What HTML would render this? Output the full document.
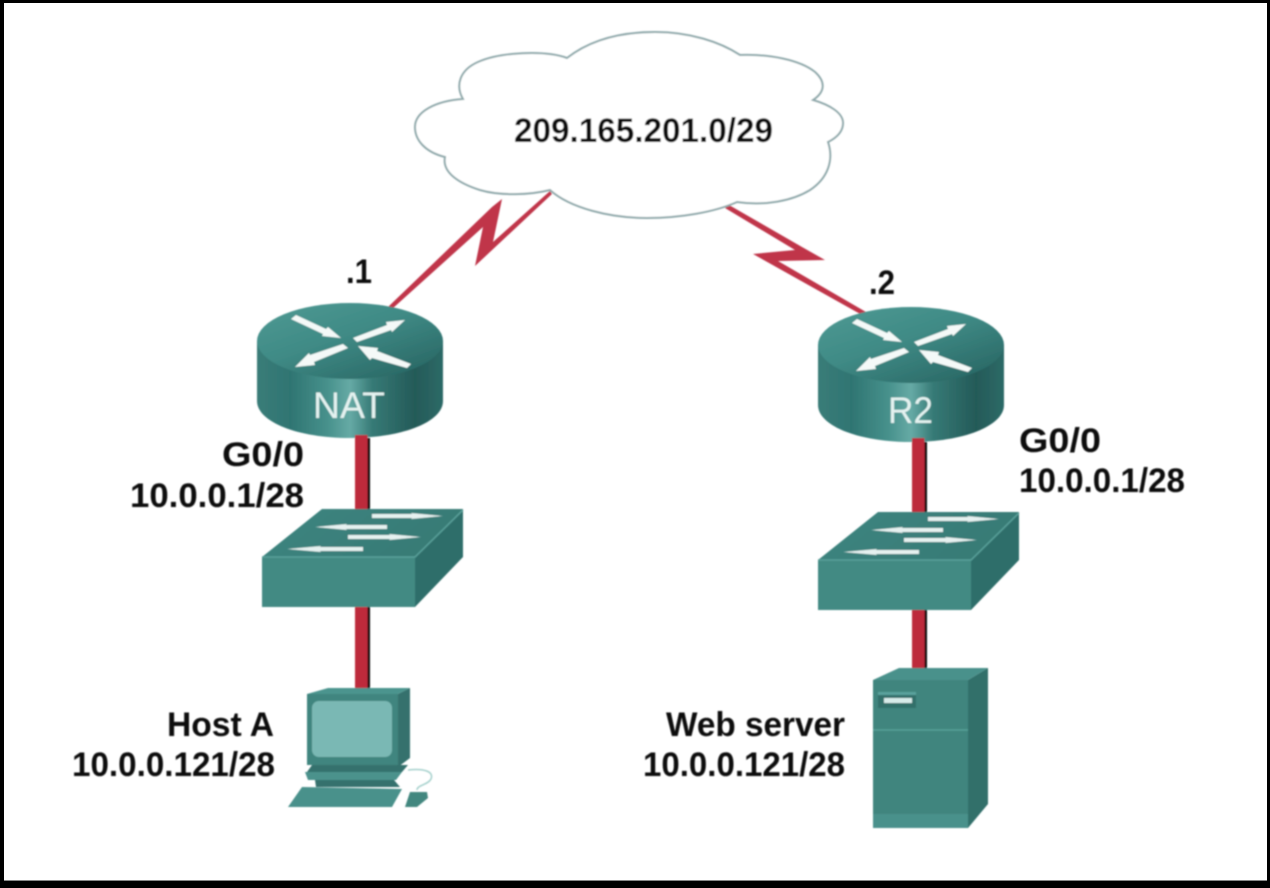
<!DOCTYPE html>
<html><head><meta charset="utf-8"><style>
html,body{margin:0;padding:0;background:#fff}
svg{display:block}
text{font-family:"Liberation Sans",sans-serif;fill:#111;font-weight:bold;font-size:34px}
</style></head><body>
<svg width="1270" height="888" viewBox="0 0 1270 888" xmlns="http://www.w3.org/2000/svg">
<defs>
<filter id="b" x="-5%" y="-5%" width="110%" height="110%"><feGaussianBlur stdDeviation="0.9"/></filter>
<linearGradient id="side" x1="0" x2="1" y1="0" y2="0">
<stop offset="0" stop-color="#3a7c78"/><stop offset=".18" stop-color="#2f7572"/><stop offset=".38" stop-color="#47918c"/><stop offset=".5" stop-color="#66aaa5"/><stop offset=".62" stop-color="#367a76"/><stop offset=".85" stop-color="#245a58"/><stop offset="1" stop-color="#2d6a67"/>
</linearGradient>
<linearGradient id="top" x1="0" x2="0.7" y1="0.2" y2="1">
<stop offset="0" stop-color="#4a9690"/><stop offset=".45" stop-color="#3f8a85"/><stop offset="1" stop-color="#2b6b68"/>
</linearGradient>
<linearGradient id="swtop" x1="0" x2="1" y1="0" y2="0.3">
<stop offset="0" stop-color="#3d8580"/><stop offset="1" stop-color="#377a75"/>
</linearGradient>
<g id="router">
<path d="M257 341V401C257 422 298 438 350 438S443 422 443 401V341Z" fill="url(#side)"/>
<ellipse cx="350" cy="341" rx="93" ry="38" fill="url(#top)"/>
<g fill="#f4f9f8">
<path d="M291 319L296 315L326 329L328 327L341 338L322 336L323 334Z"/>
<path d="M405 320L386 322L387 325L353 338L357 342L391 330L392 332Z"/>
<path d="M295 367L315 365L314 362L348 348L343 344L310 355L309 353Z"/>
<path d="M358 346L378 348L377 351L411 364L407 368L372 358L370 360Z"/>
</g>
</g>
<g id="switch">
<polygon points="322,509 463,509 415,557 262,557" fill="url(#swtop)"/>
<polygon points="262,557 415,557 415,607 262,607" fill="#428a83"/>
<polygon points="415,557 463,509 463,557 415,607" fill="#2f6e6a"/>
<path d="M262 557H415L463 510" stroke="#58a09a" stroke-width="1.5" fill="none"/>
<g fill="#e6f1f0">
<path d="M372 514H412L411 513L443 516L411 519L412 518H372Z"/>
<path d="M387 525H346L347 524L315 527L347 530L346 529H387Z"/>
<path d="M348 535H390L389 534L421 537L389 540L390 539H348Z"/>
<path d="M363 547H320L321 546L287 549L321 552L320 551H363Z"/>
</g>
</g>
</defs>
<rect width="1270" height="888" fill="#fff"/>
<g filter="url(#b)">
<!-- links -->
<polygon points="388,307 492,207 502,199 493,242 550,191 552,194 475,266 483,227 392,309" fill="#c0344a"/>
<polygon points="725,208 795,250 753,254 862,315 866,312 778,261 825,260 802,247 729,205" fill="#c0344a"/>
<!-- cloud -->
<path d="M567 58C590 40 620 32 655 32C690 32 720 42 740 55C770 54 800 60 815 72C826 82 825 92 813 100C830 105 843 113 843 123C843 132 836 138 828 142C834 160 828 178 810 190C792 201 765 206 737 202C715 212 680 218 647 218C610 218 570 208 550 190C530 195 500 196 480 190C458 183 442 172 445 157C425 152 415 140 415 127C415 112 435 101 463 99C455 85 460 70 478 62C500 52 545 50 567 58Z" fill="#fff" stroke="#8fa9ab" stroke-width="2"/>
<use href="#router"/>
<use href="#router" x="561" y="4"/>
<rect x="355" y="435" width="12.5" height="76" fill="#bd2a3a"/><rect x="367.5" y="438" width="2.5" height="73" fill="#111"/>
<rect x="355" y="605" width="12.5" height="87" fill="#bd2a3a"/><rect x="367.5" y="605" width="2.5" height="87" fill="#111"/>
<rect x="912" y="438" width="12.5" height="77" fill="#bd2a3a"/><rect x="924.5" y="442" width="2.5" height="73" fill="#111"/>
<rect x="912" y="607" width="12.5" height="63" fill="#bd2a3a"/><rect x="924.5" y="607" width="2.5" height="63" fill="#111"/>
<use href="#switch"/>
<use href="#switch" x="556" y="3"/>
<!-- PC -->
<polygon points="307,694 328,688 410,688 398,694" fill="#4b948e"/>
<polygon points="307,694 398,694 398,765 307,765" fill="#40857f"/>
<polygon points="398,694 410,688 410,758 398,767" fill="#34716d"/>
<rect x="312" y="701" width="80" height="56" rx="7" fill="#7ab8b4"/>
<polygon points="312,765 408,765 402,772 307,772" fill="#34716d"/>
<polygon points="305,772 402,772 396,780 308,780" fill="#4b928c"/>
<polygon points="315,780 394,780 400,787 316,787" fill="#34716d"/>
<polygon points="302,787 402,789 392,807 288,807" fill="#4a918b"/>
<polygon points="410,792 427,792 428,798 417,807 405,807" fill="#42877f"/>
<path d="M408 770C425 768 434 772 431 779C428 785 417 785 417 790" fill="none" stroke="#a5d0cc" stroke-width="1.5"/>
<!-- server -->
<polygon points="873,680 899,668 988,668 968,680" fill="#4a918b"/>
<polygon points="873,680 968,680 968,828 873,828" fill="#3f857e"/>
<polygon points="968,680 988,668 988,804 968,828" fill="#30706b"/>
<path d="M873 730H968" stroke="#57a098" stroke-width="1.5"/>
<rect x="873" y="814" width="95" height="14" fill="#4a918b"/>
<rect x="878" y="692" width="38" height="16" fill="#32706b"/>
<rect x="878" y="692" width="38" height="3" fill="#5aa29c"/>
<rect x="884" y="698" width="28" height="5" fill="#d8ebe9"/>
<!-- labels -->
<text x="313" y="418" style="fill:#e4f2f0;font-weight:normal;font-size:37px" textLength="72" lengthAdjust="spacingAndGlyphs">NAT</text>
<text x="888" y="423" style="fill:#e4f2f0;font-weight:normal;font-size:37px" textLength="45" lengthAdjust="spacingAndGlyphs">R2</text>
<text x="514" y="142" textLength="259" lengthAdjust="spacingAndGlyphs">209.165.201.0/29</text>
<text x="346" y="283" textLength="26" lengthAdjust="spacingAndGlyphs">.1</text>
<text x="869" y="294" textLength="26" lengthAdjust="spacingAndGlyphs">.2</text>
<text x="222" y="466" textLength="82" lengthAdjust="spacingAndGlyphs">G0/0</text>
<text x="130" y="507" textLength="174" lengthAdjust="spacingAndGlyphs">10.0.0.1/28</text>
<text x="1019" y="452" textLength="82" lengthAdjust="spacingAndGlyphs">G0/0</text>
<text x="1019" y="492" textLength="166" lengthAdjust="spacingAndGlyphs">10.0.0.1/28</text>
<text x="167" y="736" textLength="107" lengthAdjust="spacingAndGlyphs">Host A</text>
<text x="72" y="776" textLength="203" lengthAdjust="spacingAndGlyphs">10.0.0.121/28</text>
<text x="666" y="736" textLength="179" lengthAdjust="spacingAndGlyphs">Web server</text>
<text x="643" y="776" textLength="202" lengthAdjust="spacingAndGlyphs">10.0.0.121/28</text>
</g>
<rect x="0" y="0" width="1270" height="3" fill="#000"/>
<rect x="0" y="0" width="4" height="888" fill="#000"/>
<rect x="1267" y="0" width="3" height="888" fill="#000"/>
<rect x="4" y="880" width="1263" height="1" fill="#888"/>
<rect x="0" y="881" width="1270" height="7" fill="#000"/>
</svg>
</body></html>
